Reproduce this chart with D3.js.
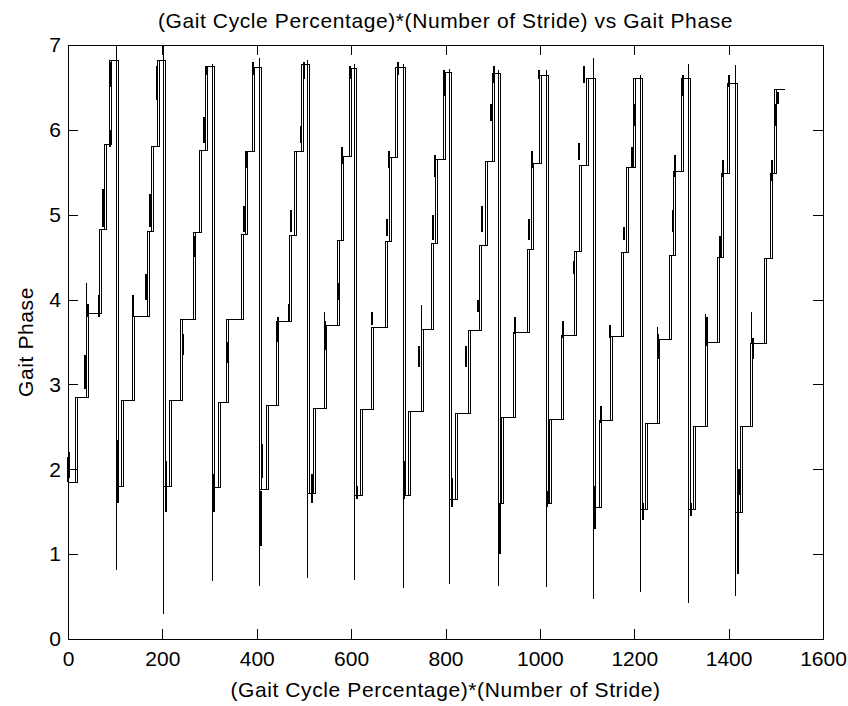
<!DOCTYPE html>
<html>
<head>
<meta charset="utf-8">
<script src="https://cdn.jsdelivr.net/npm/d3@7/dist/d3.min.js"></script>
<style>
  body { margin: 0; background: #fff; }
  text { font-family: "Liberation Sans", Arial, sans-serif; fill: #000; }
</style>
</head>
<body>
<script>
// x where each stride begins (the drop back to the low phase)
var strideStart = [0, 103, 203, 306, 406, 507, 608, 710, 809, 913, 1013, 1113, 1214, 1314, 1415];
var lastX = 1516;

// x of the five step-ups inside each stride
var stepX = [
  [15, 40, 66, 77, 89],
  [114, 137, 168, 177, 189],
  [216, 239, 267, 278, 292],
  [319, 336, 368, 377, 391],
  [421, 442, 469, 479, 495],
  [520, 543, 571, 580, 596],
  [619, 644, 672, 681, 694],
  [721, 750, 771, 778, 795],
  [822, 848, 873, 884, 900],
  [919, 945, 973, 983, 1000],
  [1021, 1046, 1074, 1084, 1098],
  [1126, 1150, 1173, 1183, 1199],
  [1223, 1249, 1274, 1284, 1300],
  [1325, 1352, 1376, 1385, 1398],
  [1425, 1447, 1477, 1488, 1498]
];

// phase level of each plateau
var levels = [
  [1.85, 2.85, 3.83, 4.83, 5.83, 6.82],
  [1.80, 2.81, 3.80, 4.80, 5.80, 6.82],
  [1.80, 2.81, 3.76, 4.79, 5.76, 6.75],
  [1.78, 2.79, 3.76, 4.77, 5.74, 6.73],
  [1.76, 2.75, 3.74, 4.75, 5.74, 6.77],
  [1.71, 2.72, 3.69, 4.70, 5.69, 6.72],
  [1.69, 2.70, 3.67, 4.68, 5.67, 6.74],
  [1.69, 2.68, 3.65, 4.66, 5.65, 6.68],
  [1.64, 2.66, 3.63, 4.64, 5.63, 6.66],
  [1.60, 2.61, 3.61, 4.59, 5.60, 6.64],
  [1.60, 2.59, 3.58, 4.57, 5.58, 6.60],
  [1.55, 2.57, 3.56, 4.55, 5.56, 6.60],
  [1.53, 2.54, 3.53, 4.52, 5.51, 6.60],
  [1.53, 2.51, 3.49, 4.50, 5.49, 6.55],
  [1.49, 2.50, 3.48, 4.48, 5.49, 6.47]
];

// lowest value reached at each stride start, and top reached just before each drop
var dropMin = [0.86, 0.81, 0.29, 0.68, 0.63, 0.72, 0.70, 0.60, 0.65, 0.63, 0.61, 0.47, 0.55, 0.42, 0.51];
var dropPeak = [7.0, 7.0, 6.78, 6.85, 6.82, 6.78, 6.78, 6.72, 6.70, 6.70, 6.85, 6.65, 6.78, 6.76];

// thin overshoots [x, from, to]
var spikes = [
  [40, 3.83, 4.19], [137, 3.80, 4.03], [543, 3.69, 3.85], [750, 3.65, 3.94],
  [1249, 3.53, 3.68], [1352, 3.49, 3.83], [1448, 3.48, 3.85]
];

// noisy thick bits of the estimate [x, from, to]
var blobs = [
  [1, 1.85, 2.14], [3, 1.90, 2.20], [36, 2.95, 3.35], [42, 3.80, 3.95], [65, 3.80, 4.05], [74, 4.85, 5.30], [88, 5.80, 6.00], [91, 6.50, 6.80],
  [106, 1.60, 2.35], [138, 3.80, 4.05], [166, 4.00, 4.30], [173, 4.85, 5.25], [189, 6.35, 6.75],
  [207, 1.50, 2.10], [243, 3.35, 3.60], [268, 4.50, 4.75], [289, 5.85, 6.15], [294, 6.65, 6.75],
  [309, 1.50, 1.95], [340, 3.25, 3.50], [373, 4.80, 5.10], [378, 5.55, 5.75], [393, 6.65, 6.80],
  [409, 1.10, 1.75], [412, 1.90, 2.30], [444, 3.50, 3.80], [468, 3.75, 3.95], [473, 4.80, 5.05], [494, 5.85, 6.05], [500, 6.60, 6.80],
  [518, 1.60, 1.95], [545, 3.40, 3.75], [575, 4.00, 4.20], [581, 5.60, 5.80], [597, 6.60, 6.75],
  [612, 1.65, 1.80], [645, 3.70, 3.85], [675, 4.75, 4.95], [680, 5.55, 5.75], [699, 6.65, 6.80],
  [712, 1.65, 2.10], [744, 3.20, 3.45], [774, 4.70, 5.00], [778, 5.45, 5.70], [797, 6.40, 6.70],
  [813, 1.55, 1.90], [844, 3.20, 3.45], [868, 3.85, 4.00], [877, 4.80, 5.10], [896, 6.10, 6.30], [902, 6.55, 6.75],
  [915, 1.00, 1.60], [947, 3.60, 3.80], [976, 4.70, 4.95], [983, 5.55, 5.75], [999, 6.60, 6.70],
  [1016, 1.55, 1.75], [1050, 3.55, 3.75], [1072, 4.30, 4.45], [1083, 5.65, 5.85], [1094, 6.55, 6.75],
  [1116, 1.30, 1.80], [1130, 2.55, 2.75], [1148, 3.55, 3.70], [1178, 4.70, 4.85], [1196, 5.55, 5.80], [1200, 6.05, 6.30],
  [1218, 1.40, 1.60], [1250, 3.30, 3.60], [1282, 4.80, 5.05], [1286, 5.45, 5.70], [1303, 6.40, 6.65],
  [1320, 1.45, 1.60], [1355, 3.45, 3.80], [1381, 4.50, 4.75], [1388, 5.45, 5.65], [1401, 6.50, 6.65],
  [1419, 0.77, 1.70], [1423, 1.70, 2.00], [1451, 3.30, 3.55], [1491, 5.40, 5.65], [1500, 6.05, 6.30], [1504, 6.30, 6.45]
];

var xTicks = [0, 200, 400, 600, 800, 1000, 1200, 1400, 1600];
var yTicks = [0, 1, 2, 3, 4, 5, 6, 7];

var titleText = "(Gait Cycle Percentage)*(Number of Stride) vs Gait Phase";
var xLabelText = "(Gait Cycle Percentage)*(Number of Stride)";
var yLabelText = "Gait Phase";

var width = 848, height = 706;
var margin = {left: 68, right: 823, top: 45, bottom: 639};

var x = d3.scaleLinear().domain([0, 1600]).range([margin.left, margin.right]);
var y = d3.scaleLinear().domain([0, 7]).range([margin.bottom, margin.top]);

var svg = d3.select("body").append("svg")
  .attr("width", width)
  .attr("height", height)
  .style("display", "block");

// staircase points from stride data
var pts = [];
strideStart.forEach(function(s, i) {
  pts.push([s, levels[i][0]]);
  stepX[i].forEach(function(sx, k) { pts.push([sx, levels[i][k + 1]]); });
});
pts.push([lastX, levels[levels.length - 1][5]]);

var stair = d3.line()
  .x(function(d) { return x(d[0]); })
  .y(function(d) { return y(d[1]); })
  .curve(d3.curveStepAfter);

var plot = svg.append("g").attr("shape-rendering", "crispEdges");

// reference phase and the (slightly lagging) estimate on top of it
plot.append("path")
  .attr("d", stair(pts))
  .attr("fill", "none")
  .attr("stroke", "#000")
  .attr("stroke-width", 1);
plot.append("path")
  .attr("d", stair(pts))
  .attr("transform", "translate(2,0)")
  .attr("fill", "none")
  .attr("stroke", "#000")
  .attr("stroke-width", 1);

// drops down to the minimum at each stride start
plot.selectAll(".dip").data(strideStart).enter().append("line")
  .attr("class", "dip")
  .attr("x1", function(d) { return x(d); })
  .attr("x2", function(d) { return x(d); })
  .attr("y1", function(d, i) { return y(i > 0 ? dropPeak[i - 1] : levels[0][0]); })
  .attr("y2", function(d, i) { return y(dropMin[i]); })
  .attr("stroke", "#000")
  .attr("stroke-width", 1);

plot.selectAll(".spike").data(spikes).enter().append("line")
  .attr("class", "spike")
  .attr("x1", function(d) { return x(d[0]); })
  .attr("x2", function(d) { return x(d[0]); })
  .attr("y1", function(d) { return y(d[1]); })
  .attr("y2", function(d) { return y(d[2]); })
  .attr("stroke", "#000")
  .attr("stroke-width", 1);

plot.selectAll(".blob").data(blobs).enter().append("line")
  .attr("class", "blob")
  .attr("x1", function(d) { return x(d[0]); })
  .attr("x2", function(d) { return x(d[0]); })
  .attr("y1", function(d) { return y(d[1]); })
  .attr("y2", function(d) { return y(d[2]); })
  .attr("stroke", "#000")
  .attr("stroke-width", 2);

// axes, ticks inward on all four sides (matlab box)
function styleAxis(g) {
  g.selectAll("path, line").attr("stroke", "#000").attr("shape-rendering", "crispEdges");
  g.selectAll("text").attr("font-size", 21).attr("font-family", "Liberation Sans, Arial, sans-serif").attr("fill", "#000");
}

var fmt = d3.format("d");

svg.append("g")
  .attr("transform", "translate(0," + margin.bottom + ")")
  .call(d3.axisBottom(x).tickValues(xTicks).tickFormat(fmt).tickSizeInner(-10).tickSizeOuter(0).tickPadding(12))
  .call(styleAxis);
svg.append("g")
  .attr("transform", "translate(0," + margin.top + ")")
  .call(d3.axisTop(x).tickValues(xTicks).tickSizeInner(-10).tickSizeOuter(0).tickFormat(""))
  .call(styleAxis);
svg.append("g")
  .attr("transform", "translate(" + margin.left + ",0)")
  .call(d3.axisLeft(y).tickValues(yTicks).tickFormat(fmt).tickSizeInner(-10).tickSizeOuter(0).tickPadding(7))
  .call(styleAxis);
svg.append("g")
  .attr("transform", "translate(" + margin.right + ",0)")
  .call(d3.axisRight(y).tickValues(yTicks).tickSizeInner(-10).tickSizeOuter(0).tickFormat(""))
  .call(styleAxis);

svg.append("text")
  .attr("x", (margin.left + margin.right) / 2)
  .attr("y", 28)
  .attr("text-anchor", "middle")
  .attr("font-size", 21)
  .attr("letter-spacing", 0.6)
  .text(titleText);

svg.append("text")
  .attr("x", (margin.left + margin.right) / 2)
  .attr("y", 697)
  .attr("text-anchor", "middle")
  .attr("font-size", 21)
  .attr("letter-spacing", 0.6)
  .text(xLabelText);

svg.append("text")
  .attr("transform", "translate(33," + (margin.top + margin.bottom) / 2 + ") rotate(-90)")
  .attr("text-anchor", "middle")
  .attr("font-size", 21)
  .attr("letter-spacing", 0.6)
  .text(yLabelText);
</script>
</body>
</html>
